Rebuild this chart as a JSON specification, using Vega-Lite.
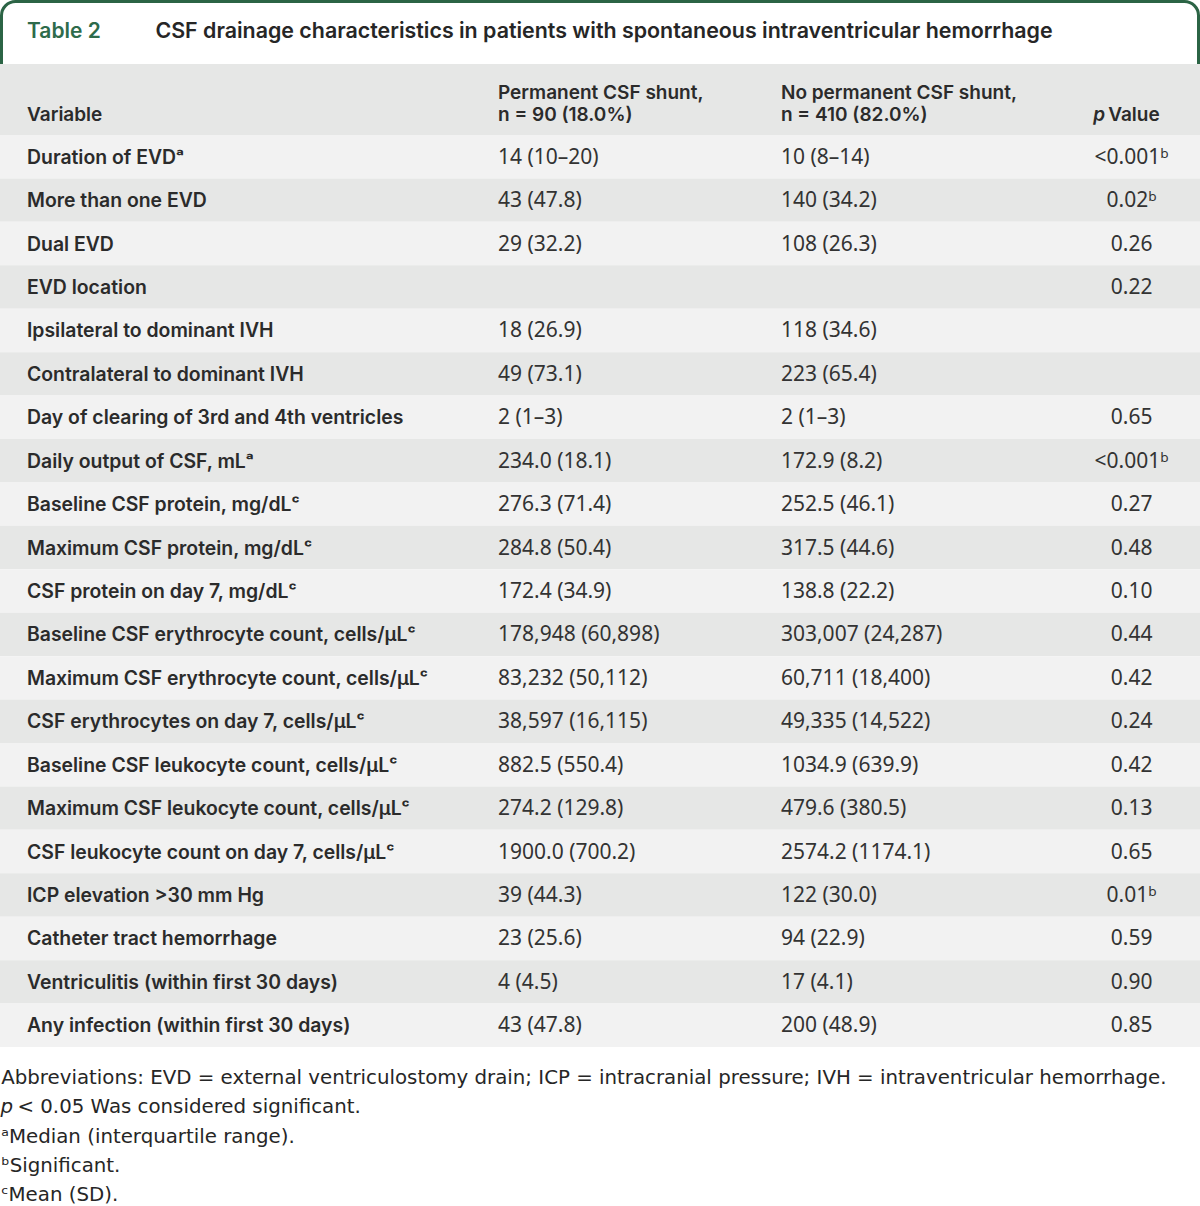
{
  "$schema": "https://vega.github.io/schema/vega-lite/v6.json",
  "width": 1200,
  "height": 1206,
  "padding": 0,
  "autosize": {"type": "fit", "contains": "padding"},
  "background": "white",
  "config": {"view": {"stroke": null}},
  "datasets": {
    "body": [
      {"row": 0, "variable": "Duration of EVDᵃ", "perm": "14 (10–20)", "noperm": "10 (8–14)", "p": "<0.001ᵇ"},
      {"row": 1, "variable": "More than one EVD", "perm": "43 (47.8)", "noperm": "140 (34.2)", "p": "0.02ᵇ"},
      {"row": 2, "variable": "Dual EVD", "perm": "29 (32.2)", "noperm": "108 (26.3)", "p": "0.26"},
      {"row": 3, "variable": "EVD location", "perm": "", "noperm": "", "p": "0.22"},
      {"row": 4, "variable": "Ipsilateral to dominant IVH", "perm": "18 (26.9)", "noperm": "118 (34.6)", "p": ""},
      {"row": 5, "variable": "Contralateral to dominant IVH", "perm": "49 (73.1)", "noperm": "223 (65.4)", "p": ""},
      {"row": 6, "variable": "Day of clearing of 3rd and 4th ventricles", "perm": "2 (1–3)", "noperm": "2 (1–3)", "p": "0.65"},
      {"row": 7, "variable": "Daily output of CSF, mLᵃ", "perm": "234.0 (18.1)", "noperm": "172.9 (8.2)", "p": "<0.001ᵇ"},
      {"row": 8, "variable": "Baseline CSF protein, mg/dLᶜ", "perm": "276.3 (71.4)", "noperm": "252.5 (46.1)", "p": "0.27"},
      {"row": 9, "variable": "Maximum CSF protein, mg/dLᶜ", "perm": "284.8 (50.4)", "noperm": "317.5 (44.6)", "p": "0.48"},
      {"row": 10, "variable": "CSF protein on day 7, mg/dLᶜ", "perm": "172.4 (34.9)", "noperm": "138.8 (22.2)", "p": "0.10"},
      {"row": 11, "variable": "Baseline CSF erythrocyte count, cells/μLᶜ", "perm": "178,948 (60,898)", "noperm": "303,007 (24,287)", "p": "0.44"},
      {"row": 12, "variable": "Maximum CSF erythrocyte count, cells/μLᶜ", "perm": "83,232 (50,112)", "noperm": "60,711 (18,400)", "p": "0.42"},
      {"row": 13, "variable": "CSF erythrocytes on day 7, cells/μLᶜ", "perm": "38,597 (16,115)", "noperm": "49,335 (14,522)", "p": "0.24"},
      {"row": 14, "variable": "Baseline CSF leukocyte count, cells/μLᶜ", "perm": "882.5 (550.4)", "noperm": "1034.9 (639.9)", "p": "0.42"},
      {"row": 15, "variable": "Maximum CSF leukocyte count, cells/μLᶜ", "perm": "274.2 (129.8)", "noperm": "479.6 (380.5)", "p": "0.13"},
      {"row": 16, "variable": "CSF leukocyte count on day 7, cells/μLᶜ", "perm": "1900.0 (700.2)", "noperm": "2574.2 (1174.1)", "p": "0.65"},
      {"row": 17, "variable": "ICP elevation >30 mm Hg", "perm": "39 (44.3)", "noperm": "122 (30.0)", "p": "0.01ᵇ"},
      {"row": 18, "variable": "Catheter tract hemorrhage", "perm": "23 (25.6)", "noperm": "94 (22.9)", "p": "0.59"},
      {"row": 19, "variable": "Ventriculitis (within first 30 days)", "perm": "4 (4.5)", "noperm": "17 (4.1)", "p": "0.90"},
      {"row": 20, "variable": "Any infection (within first 30 days)", "perm": "43 (47.8)", "noperm": "200 (48.9)", "p": "0.85"}
    ],
    "header": [
      {"line": "l1", "variable": "", "perm": "Permanent CSF shunt,", "noperm": "No permanent CSF shunt,", "pv": ""},
      {"line": "l2", "variable": "Variable", "perm": "n = 90 (18.0%)", "noperm": "n = 410 (82.0%)", "pv": "Value"}
    ],
    "notes": [
      {"line": 0, "text": "Abbreviations: EVD = external ventriculostomy drain; ICP = intracranial pressure; IVH = intraventricular hemorrhage."},
      {"line": 2, "text": "ᵃMedian (interquartile range)."},
      {"line": 3, "text": "ᵇSignificant."},
      {"line": 4, "text": "ᶜMean (SD)."}
    ]
  },
  "resolve": {"scale": {"y": "independent"}},
  "layer": [
    {
      "data": {"values": [{"part": "title"}]},
      "mark": {"type": "rect", "fill": "white", "stroke": "#2b6445", "strokeWidth": 3, "cornerRadiusTopLeft": 14, "cornerRadiusTopRight": 14},
      "encoding": {
        "x": {"datum": 0.125, "type": "quantitative", "scale": {"domain": [0, 100], "nice": false, "zero": false}, "axis": null},
        "x2": {"datum": 99.875},
        "y": {"field": "part", "type": "nominal", "scale": {"domain": ["title"], "range": [1.5, 90], "paddingInner": 0, "paddingOuter": 0}, "axis": null}
      }
    },
    {
      "data": {"values": [{"part": "title"}]},
      "mark": {"type": "text", "align": "left", "baseline": "middle", "font": "Inter", "fontWeight": 600, "fontSize": 21, "fill": "#2e6b4b", "text": "Table 2"},
      "encoding": {
        "x": {"datum": 2.25, "type": "quantitative", "scale": {"domain": [0, 100], "nice": false, "zero": false}, "axis": null},
        "y": {"field": "part", "type": "nominal", "scale": {"domain": ["title"], "range": [1, 63]}, "axis": null}
      }
    },
    {
      "data": {"values": [{"part": "title"}]},
      "mark": {"type": "text", "align": "left", "baseline": "middle", "font": "Inter", "fontWeight": 600, "fontSize": 21.4, "fill": "#262626", "text": "CSF drainage characteristics in patients with spontaneous intraventricular hemorrhage"},
      "encoding": {
        "x": {"datum": 12.95, "type": "quantitative", "scale": {"domain": [0, 100], "nice": false, "zero": false}, "axis": null},
        "y": {"field": "part", "type": "nominal", "scale": {"domain": ["title"], "range": [1, 63]}, "axis": null}
      }
    },
    {
      "data": {"values": [{"part": "header"}]},
      "mark": {"type": "rect", "fill": "#e6e7e6"},
      "encoding": {
        "x": {"datum": 0, "type": "quantitative", "scale": {"domain": [0, 100], "nice": false, "zero": false}, "axis": null},
        "x2": {"datum": 100},
        "y": {"field": "part", "type": "nominal", "scale": {"domain": ["header"], "range": [64, 135], "paddingInner": 0, "paddingOuter": 0}, "axis": null}
      }
    },
    {
      "data": {"name": "body"},
      "mark": {"type": "rect"},
      "encoding": {
        "x": {"datum": 0, "type": "quantitative", "scale": {"domain": [0, 100], "nice": false, "zero": false}, "axis": null},
        "x2": {"datum": 100},
        "y": {"field": "row", "type": "ordinal", "scale": {"domain": [0,1,2,3,4,5,6,7,8,9,10,11,12,13,14,15,16,17,18,19,20], "range": [135, 1047], "paddingInner": 0, "paddingOuter": 0}, "axis": null},
        "fill": {"condition": {"test": "datum.row % 2 === 1", "value": "#e6e7e6"}, "value": "#f2f2f2"}
      }
    },
    {
      "data": {"name": "header"},
      "mark": {"type": "text", "align": "left", "baseline": "middle", "font": "Inter", "fontWeight": 600, "fontSize": 19, "fill": "#2b2b2b"},
      "encoding": {
        "x": {"datum": 2.25, "type": "quantitative", "scale": {"domain": [0, 100], "nice": false, "zero": false}, "axis": null},
        "y": {"field": "line", "type": "nominal", "scale": {"domain": ["l1", "l2"], "range": [82, 126]}, "axis": null},
        "text": {"field": "variable"}
      }
    },
    {
      "data": {"name": "header"},
      "mark": {"type": "text", "align": "left", "baseline": "middle", "font": "Inter", "fontWeight": 600, "fontSize": 19, "fill": "#2b2b2b"},
      "encoding": {
        "x": {"datum": 41.5, "type": "quantitative", "scale": {"domain": [0, 100], "nice": false, "zero": false}, "axis": null},
        "y": {"field": "line", "type": "nominal", "scale": {"domain": ["l1", "l2"], "range": [82, 126]}, "axis": null},
        "text": {"field": "perm"}
      }
    },
    {
      "data": {"name": "header"},
      "mark": {"type": "text", "align": "left", "baseline": "middle", "font": "Inter", "fontWeight": 600, "fontSize": 19, "fill": "#2b2b2b"},
      "encoding": {
        "x": {"datum": 65.08, "type": "quantitative", "scale": {"domain": [0, 100], "nice": false, "zero": false}, "axis": null},
        "y": {"field": "line", "type": "nominal", "scale": {"domain": ["l1", "l2"], "range": [82, 126]}, "axis": null},
        "text": {"field": "noperm"}
      }
    },
    {
      "data": {"name": "header"},
      "mark": {"type": "text", "align": "left", "baseline": "middle", "font": "Inter", "fontWeight": 600, "fontSize": 19, "fill": "#2b2b2b"},
      "encoding": {
        "x": {"datum": 92.35, "type": "quantitative", "scale": {"domain": [0, 100], "nice": false, "zero": false}, "axis": null},
        "y": {"field": "line", "type": "nominal", "scale": {"domain": ["l1", "l2"], "range": [82, 126]}, "axis": null},
        "text": {"field": "pv"}
      }
    },
    {
      "data": {"values": [{"line": "l2", "t": "p"}]},
      "mark": {"type": "text", "align": "right", "baseline": "middle", "font": "Inter", "fontWeight": 600, "fontStyle": "italic", "fontSize": 19, "fill": "#2b2b2b"},
      "encoding": {
        "x": {"datum": 92.1, "type": "quantitative", "scale": {"domain": [0, 100], "nice": false, "zero": false}, "axis": null},
        "y": {"field": "line", "type": "nominal", "scale": {"domain": ["l1", "l2"], "range": [82, 126]}, "axis": null},
        "text": {"field": "t"}
      }
    },
    {
      "data": {"name": "body"},
      "mark": {"type": "text", "align": "left", "baseline": "middle", "dy": 1, "font": "Inter", "fontWeight": 600, "fontSize": 19.4, "fill": "#2b2b2b"},
      "encoding": {
        "x": {"datum": 2.25, "type": "quantitative", "scale": {"domain": [0, 100], "nice": false, "zero": false}, "axis": null},
        "y": {"field": "row", "type": "ordinal", "scale": {"domain": [0,1,2,3,4,5,6,7,8,9,10,11,12,13,14,15,16,17,18,19,20], "range": [135, 1047], "paddingInner": 0, "paddingOuter": 0}, "axis": null},
        "text": {"field": "variable"}
      }
    },
    {
      "data": {"name": "body"},
      "mark": {"type": "text", "align": "left", "baseline": "middle", "dy": 1, "font": "Noto Sans", "fontSize": 21, "fill": "#333333"},
      "encoding": {
        "x": {"datum": 41.5, "type": "quantitative", "scale": {"domain": [0, 100], "nice": false, "zero": false}, "axis": null},
        "y": {"field": "row", "type": "ordinal", "scale": {"domain": [0,1,2,3,4,5,6,7,8,9,10,11,12,13,14,15,16,17,18,19,20], "range": [135, 1047], "paddingInner": 0, "paddingOuter": 0}, "axis": null},
        "text": {"field": "perm"}
      }
    },
    {
      "data": {"name": "body"},
      "mark": {"type": "text", "align": "left", "baseline": "middle", "dy": 1, "font": "Noto Sans", "fontSize": 21, "fill": "#333333"},
      "encoding": {
        "x": {"datum": 65.08, "type": "quantitative", "scale": {"domain": [0, 100], "nice": false, "zero": false}, "axis": null},
        "y": {"field": "row", "type": "ordinal", "scale": {"domain": [0,1,2,3,4,5,6,7,8,9,10,11,12,13,14,15,16,17,18,19,20], "range": [135, 1047], "paddingInner": 0, "paddingOuter": 0}, "axis": null},
        "text": {"field": "noperm"}
      }
    },
    {
      "data": {"name": "body"},
      "mark": {"type": "text", "align": "center", "baseline": "middle", "dy": 1, "font": "Noto Sans", "fontSize": 21, "fill": "#333333"},
      "encoding": {
        "x": {"datum": 94.3, "type": "quantitative", "scale": {"domain": [0, 100], "nice": false, "zero": false}, "axis": null},
        "y": {"field": "row", "type": "ordinal", "scale": {"domain": [0,1,2,3,4,5,6,7,8,9,10,11,12,13,14,15,16,17,18,19,20], "range": [135, 1047], "paddingInner": 0, "paddingOuter": 0}, "axis": null},
        "text": {"field": "p"}
      }
    },
    {
      "data": {"name": "notes"},
      "mark": {"type": "text", "align": "left", "baseline": "middle", "font": "DejaVu Sans", "fontSize": 19.8, "fill": "#262626"},
      "encoding": {
        "x": {"datum": 0.1, "type": "quantitative", "scale": {"domain": [0, 100], "nice": false, "zero": false}, "axis": null},
        "y": {"field": "line", "type": "ordinal", "scale": {"domain": [0, 1, 2, 3, 4], "range": [1063.4, 1209.65], "paddingInner": 0, "paddingOuter": 0}, "axis": null},
        "text": {"field": "text"}
      }
    },
    {
      "data": {"values": [{"line": 1, "t": "< 0.05 Was considered significant."}]},
      "mark": {"type": "text", "align": "left", "baseline": "middle", "font": "DejaVu Sans", "fontSize": 19.8, "fill": "#262626"},
      "encoding": {
        "x": {"datum": 1.45, "type": "quantitative", "scale": {"domain": [0, 100], "nice": false, "zero": false}, "axis": null},
        "y": {"field": "line", "type": "ordinal", "scale": {"domain": [0, 1, 2, 3, 4], "range": [1063.4, 1209.65], "paddingInner": 0, "paddingOuter": 0}, "axis": null},
        "text": {"field": "t"}
      }
    },
    {
      "data": {"values": [{"line": 1, "t": "p"}]},
      "mark": {"type": "text", "align": "left", "baseline": "middle", "font": "DejaVu Sans", "fontStyle": "italic", "fontSize": 19.8, "fill": "#262626"},
      "encoding": {
        "x": {"datum": 0.05, "type": "quantitative", "scale": {"domain": [0, 100], "nice": false, "zero": false}, "axis": null},
        "y": {"field": "line", "type": "ordinal", "scale": {"domain": [0, 1, 2, 3, 4], "range": [1063.4, 1209.65], "paddingInner": 0, "paddingOuter": 0}, "axis": null},
        "text": {"field": "t"}
      }
    }
  ]
}
